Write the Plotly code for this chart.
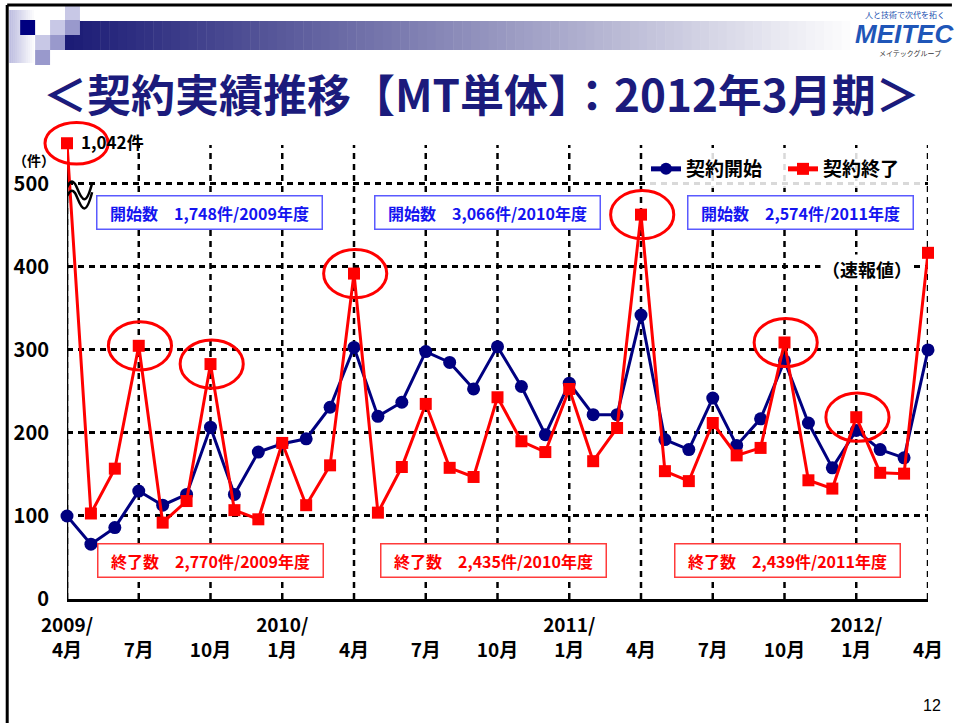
import plotly.graph_objects as go

# ---------------- data ----------------
month_idx = list(range(37))  # 0 = 2009/4 ... 36 = 2012/4
start_counts = [100, 66, 86, 130, 113, 126, 207, 126, 177, 187, 193, 231,
                303, 220, 237, 298, 285, 253, 304, 256, 198, 260, 222, 222,
                342, 192, 180, 242, 185, 217, 287, 212, 158, 203, 180, 170,
                300]
end_counts = [1042, 103, 157, 305, 92, 118, 283, 107, 96, 188, 113, 161,
              392, 104, 159, 235, 158, 147, 243, 190, 177, 253, 166, 206,
              463, 154, 142, 212, 173, 182, 309, 143, 133, 219, 152, 151,
              417]
tick_idx = [0, 3, 6, 9, 12, 15, 18, 21, 24, 27, 30, 33, 36]
tick_text = ["2009/<br>4月", " <br>7月", " <br>10月", "2010/<br>1月", " <br>4月",
             " <br>7月", " <br>10月", "2011/<br>1月", " <br>4月", " <br>7月",
             " <br>10月", "2012/<br>1月", " <br>4月"]
y_ticks = [0, 100, 200, 300, 400, 500]
fiscal_years = ["2009", "2010", "2011"]
start_totals = ["1,748", "3,066", "2,574"]
end_totals = ["2,770", "2,435", "2,439"]
highlight_idx = [0, 3, 6, 12, 24, 30, 33]

# broken axis: values above BREAK_AT are drawn at BREAK_SHOW
BREAK_AT = 500
BREAK_SHOW = 549
GRID_TOP = 547
Y_MAX = 577
X_MAX = 36
end_disp = [v if v <= BREAK_AT else BREAK_SHOW for v in end_counts]

NAVY = "#000080"
RED = "#ff0000"
FONT = "Noto Sans CJK JP, Noto Sans, sans-serif"

W, H = 955, 723
PX_PER_UNIT = 0.83
L, R, B = 67, 24, 124
PW = W - L - R
PH = round(Y_MAX * PX_PER_UNIT)
T = H - B - PH


def px(x):
    return (x - L) / PW


def py(y):
    return (H - B - y) / PH


fig = go.Figure()
fig.add_trace(go.Scatter(
    x=month_idx, y=start_counts, name="契約開始", mode="lines+markers",
    line=dict(color=NAVY, width=3), marker=dict(symbol="circle", size=13, color=NAVY),
    cliponaxis=False))
fig.add_trace(go.Scatter(
    x=month_idx, y=end_disp, name="契約終了", mode="lines+markers",
    customdata=end_counts, hovertemplate="%{customdata}<extra></extra>",
    line=dict(color=RED, width=3), marker=dict(symbol="square", size=12, color=RED),
    cliponaxis=False))

shapes = []
# vertical dashed grid lines (stop at the top of the value grid)
for tv in tick_idx:
    shapes.append(dict(type="line", xref="x", yref="y", x0=tv, x1=tv, y0=0, y1=GRID_TOP,
                       line=dict(color="black", width=2.5, dash="6px,5px"), layer="below"))
# y axis line
shapes.append(dict(type="line", xref="x", yref="y", x0=0, x1=0, y0=0, y1=GRID_TOP,
                   line=dict(color="black", width=2.5), layer="below"))
# highlight ellipses (paper coordinates derived from the data so they are not clipped)
for i in highlight_idx:
    yv = end_disp[i]
    hh = 25 if end_counts[i] > BREAK_AT else 29
    dx = 0.4 if end_counts[i] > BREAK_AT else 0.05
    shapes.append(dict(type="circle", xref="paper", yref="paper",
                       x0=(i + dx - 1.32) / X_MAX, x1=(i + dx + 1.32) / X_MAX,
                       y0=(yv - hh) / Y_MAX, y1=(yv + hh) / Y_MAX,
                       line=dict(color=RED, width=3)))
# axis break symbol
for off in (0, 11):
    shapes.append(dict(type="path", xref="x", yref="y",
                       path=f"M -0.2,{466+off} C 0.0,{490+off} 0.2,{500+off} 0.42,{484+off} "
                            f"S 0.8,{462+off} 1.05,{490+off}",
                       line=dict(color="black", width=2.5)))

# slide frame
shapes.append(dict(type="line", xref="paper", yref="paper", x0=px(7), x1=px(955),
                   y0=py(5), y1=py(5), line=dict(color="black", width=3)))
shapes.append(dict(type="line", xref="paper", yref="paper", x0=px(7), x1=px(7),
                   y0=py(5), y1=py(723), line=dict(color="black", width=3)))

# header gradient bar
n = 90
x_a, x_b = 65, 862
c0 = (28, 28, 118)
for k in range(n):
    t = k / (n - 1)
    col = tuple(int(c0[j] + (255 - c0[j]) * t) for j in range(3))
    xa = x_a + (x_b - x_a) * k / n
    xb = x_a + (x_b - x_a) * (k + 1) / n + 0.5
    shapes.append(dict(type="rect", xref="paper", yref="paper", x0=px(xa), x1=px(xb),
                       y0=py(50), y1=py(21), line=dict(width=0),
                       fillcolor=f"rgb{col}", layer="below"))
# light gradient block on the left
m = 14
for k in range(m):
    t = k / (m - 1)
    col = tuple(int(c + (255 - c) * t) for c in (190, 190, 225))
    xa = 9 + 27 * k / m
    xb = 9 + 27 * (k + 1) / m + 0.3
    shapes.append(dict(type="rect", xref="paper", yref="paper", x0=px(xa), x1=px(xb),
                       y0=py(63), y1=py(10), line=dict(width=0),
                       fillcolor=f"rgb{col}", layer="below"))
# checker squares
squares = [(20, 20, "#000080"), (35, 35, "#c8c8e6"), (50, 20, "#c8c8e6"),
           (65, 20, "#9999cc"), (65, 5, "#c8c8e6"), (50, 35, "#9999cc"),
           (35, 50, "#9999cc")]
for sx, sy, col in squares:
    shapes.append(dict(type="rect", xref="paper", yref="paper", x0=px(sx), x1=px(sx + 15),
                       y0=py(sy + 15), y1=py(sy), line=dict(width=0), fillcolor=col,
                       layer="below"))

annotations = []
# title
annotations.append(dict(xref="paper", yref="paper", x=px(483), y=py(93),
                        text="<b>＜契約実績推移【MT単体】：2012年3月期＞</b>", showarrow=False,
                        font=dict(family=FONT, size=44, color="#1b1b7c"),
                        xanchor="center", yanchor="middle"))
# logo
annotations.append(dict(xref="paper", yref="paper", x=px(866), y=py(15),
                        text="人と技術で次代を拓く", showarrow=False, xanchor="left",
                        yanchor="middle", font=dict(family=FONT, size=8, color="#2050b0")))
annotations.append(dict(xref="paper", yref="paper", x=px(856), y=py(34),
                        text="<b><i>MEITEC</i></b>", showarrow=False, xanchor="left",
                        yanchor="middle", font=dict(family="Liberation Sans, Arial", size=26,
                                                    color="#1f56b8")))
annotations.append(dict(xref="paper", yref="paper", x=px(880), y=py(53),
                        text="メイテックグループ", showarrow=False, xanchor="left",
                        yanchor="middle", font=dict(family=FONT, size=7, color="#333333")))
# unit label
annotations.append(dict(xref="paper", yref="paper", x=px(34), y=py(160),
                        text="<b>（件）</b>", showarrow=False, xanchor="center",
                        yanchor="middle", font=dict(family=FONT, size=14, color="black")))
# break value label
annotations.append(dict(xref="x", yref="y", x=0.5, y=BREAK_SHOW + 2,
                        text=f"<b>{end_counts[0]:,}件</b>", showarrow=False, xanchor="left",
                        yanchor="middle", font=dict(family=FONT, size=17, color="black")))
# preliminary label
annotations.append(dict(xref="x", yref="y", x=33.45, y=397,
                        text="<b>（速報値）</b>", showarrow=False, xanchor="center",
                        yanchor="middle", bgcolor="white",
                        font=dict(family=FONT, size=18, color="black")))
# fiscal year boxes
start_box_x = [5.96, 17.58, 30.65]
end_box_x = [6.02, 17.83, 30.13]
for k, fy in enumerate(fiscal_years):
    annotations.append(dict(xref="x", yref="y", x=start_box_x[k], y=466,
                            text=f"<b>開始数　{start_totals[k]}件/{fy}年度</b>",
                            showarrow=False, xanchor="center", yanchor="middle",
                            width=222, height=30, bgcolor="white",
                            bordercolor="#5a5aff", borderwidth=1.5, borderpad=1,
                            font=dict(family=FONT, size=16, color="#1414f0")))
    annotations.append(dict(xref="x", yref="y", x=end_box_x[k], y=46,
                            text=f"<b>終了数　{end_totals[k]}件/{fy}年度</b>",
                            showarrow=False, xanchor="center", yanchor="middle",
                            width=222, height=30, bgcolor="white",
                            bordercolor="#ff3b3b", borderwidth=1.5, borderpad=1,
                            font=dict(family=FONT, size=16, color=RED)))
# page number
annotations.append(dict(xref="paper", yref="paper", x=px(935), y=py(705),
                        text="12", showarrow=False, xanchor="center", yanchor="middle",
                        font=dict(family="Liberation Sans, Arial", size=16, color="black")))

fig.update_layout(
    width=W, height=H, margin=dict(l=L, r=R, t=T, b=B, pad=0),
    paper_bgcolor="white", plot_bgcolor="white",
    font=dict(family=FONT, color="black"),
    showlegend=True,
    legend=dict(orientation="h", x=px(648), y=py(150), xanchor="left", yanchor="top",
                bgcolor="rgba(255,255,255,0.85)", borderwidth=0,
                font=dict(family=FONT, size=19, color="black", weight="bold"),
                entrywidth=92, entrywidthmode="pixels", itemsizing="constant"),
    shapes=shapes, annotations=annotations,
    hovermode="closest",
)
fig.update_xaxes(range=[0, X_MAX], tickvals=tick_idx, ticktext=tick_text,
                 showgrid=False,
                 showline=True, linecolor="black", linewidth=3, zeroline=False,
                 ticks="", ticklabelstandoff=7,
                 tickfont=dict(family=FONT, size=19, color="black", weight="bold"))
fig.update_yaxes(range=[0, Y_MAX], tickvals=y_ticks,
                 showgrid=True, gridcolor="black", gridwidth=2.5, griddash="6px,5px",
                 showline=False, zeroline=False,
                 ticks="", ticklabelstandoff=17,
                 tickfont=dict(family=FONT, size=20, color="black", weight="bold"))

fig.write_html("out.html", post_script="document.body.style.margin='0';",
               config={"displayModeBar": False})
